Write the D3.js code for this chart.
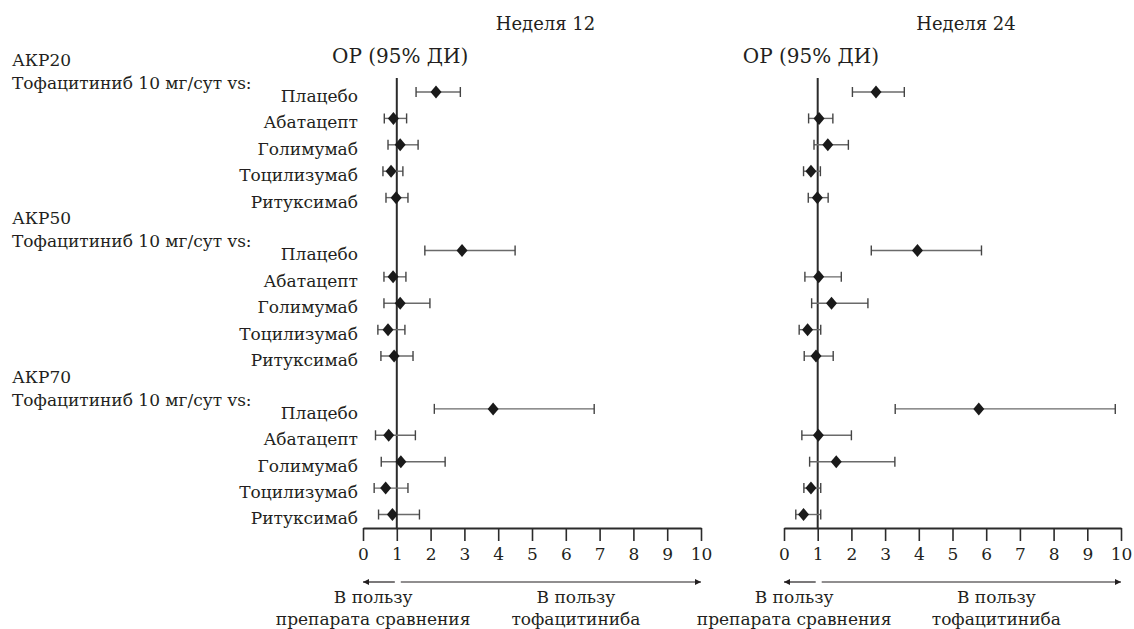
<!DOCTYPE html>
<html>
<head>
<meta charset="utf-8">
<script src="https://cdn.jsdelivr.net/npm/d3@7"></script>
<style>
  body { margin: 0; background: #fff; }
  svg text { fill: #231f20; }
</style>
</head>
<body>
<script>
// Данные
var groups = ["АКР20", "АКР50", "АКР70"];
var groupSub = "Тофацитиниб 10 мг/сут vs:";
var comparators = ["Плацебо", "Абатацепт", "Голимумаб", "Тоцилизумаб", "Ритуксимаб"];
var weeks = ["Неделя 12", "Неделя 24"];
var ticks = [0, 1, 2, 3, 4, 5, 6, 7, 8, 9, 10];

// Неделя 12: ОР, нижняя и верхняя граница ДИ (АКР20, АКР50, АКР70 подряд)
var w12est = [2.16, 0.90, 1.10, 0.83, 0.98,  2.93, 0.89, 1.10, 0.74, 0.92,  3.85, 0.76, 1.12, 0.67, 0.87];
var w12lo  = [1.57, 0.63, 0.74, 0.59, 0.68,  1.83, 0.62, 0.62, 0.44, 0.53,  2.11, 0.37, 0.54, 0.33, 0.46];
var w12hi  = [2.88, 1.29, 1.63, 1.18, 1.33,  4.50, 1.27, 1.98, 1.24, 1.48,  6.84, 1.55, 2.43, 1.33, 1.67];

// Неделя 24
var w24est = [2.73, 1.04, 1.30, 0.80, 0.99,  3.96, 1.03, 1.41, 0.70, 0.95,  5.78, 1.02, 1.55, 0.80, 0.58];
var w24lo  = [2.03, 0.73, 0.89, 0.58, 0.72,  2.59, 0.62, 0.82, 0.45, 0.60,  3.30, 0.53, 0.76, 0.59, 0.35];
var w24hi  = [3.57, 1.45, 1.91, 1.08, 1.31,  5.86, 1.70, 2.49, 1.09, 1.46,  9.83, 2.00, 3.29, 1.09, 1.09];

var favourLeft = ["В пользу", "препарата сравнения"];
var favourRight = ["В пользу", "тофацитиниба"];

var serif = "'DejaVu Serif', 'Liberation Serif', serif";
var width = 1134, height = 629;
var svg = d3.select("body").append("svg")
    .attr("width", width)
    .attr("height", height)
    .style("font-family", serif);

// строки: 5 на группу + пустая строка между группами
var rows = [];
groups.forEach(function(g, gi) {
  comparators.forEach(function(c, ci) {
    rows.push({group: gi, name: c, slot: gi * 6 + ci, i: gi * 5 + ci});
  });
});

var y = d3.scaleLinear().domain([0, 16]).range([92, 514.5]);
var axisY = 528;

var panels = [
  {title: weeks[0], x: d3.scaleLinear().domain([0, 10]).range([363, 701]), orX: 1.1, est: w12est, lo: w12lo, hi: w12hi},
  {title: weeks[1], x: d3.scaleLinear().domain([0, 10]).range([784, 1121]), orX: 0.8, est: w24est, lo: w24lo, hi: w24hi}
];

var defs = svg.append("defs");
defs.append("marker")
    .attr("id", "arr")
    .attr("viewBox", "0 0 10 10")
    .attr("refX", 10).attr("refY", 5)
    .attr("markerWidth", 10).attr("markerHeight", 6)
    .attr("markerUnits", "userSpaceOnUse")
    .attr("orient", "auto-start-reverse")
  .append("path")
    .attr("d", "M0,0L10,5L0,10Z")
    .attr("fill", "#231f20");

function addText(sel, size) {
  return sel.append("text")
      .style("font-family", serif)
      .style("font-size", size + "px");
}

// подписи групп и препаратов сравнения
groups.forEach(function(g, gi) {
  var y0 = y(gi * 6);
  addText(svg, 17)
      .attr("x", 12).attr("y", y0 - 32)
      .attr("dy", "0.35em")
      .text(g);
  addText(svg, 17)
      .attr("x", 12).attr("y", y0 - 9)
      .attr("dy", "0.35em")
      .text(groupSub);
});

rows.forEach(function(d) {
  addText(svg, 17)
      .attr("x", 358)
      .attr("y", y(d.slot) + 4)
      .attr("dy", "0.35em")
      .attr("text-anchor", "end")
      .text(d.name);
});

panels.forEach(function(p) {
  var x = p.x;
  var g = svg.append("g");

  // заголовки
  addText(g, 18)
      .attr("x", x(5.4)).attr("y", 30)
      .attr("text-anchor", "middle")
      .text(p.title);
  addText(g, 20)
      .attr("x", x(p.orX)).attr("y", 63)
      .attr("text-anchor", "middle")
      .text("ОР (95% ДИ)");

  // линия ОР = 1
  g.append("line")
      .attr("x1", x(1)).attr("x2", x(1))
      .attr("y1", 78).attr("y2", axisY)
      .attr("stroke", "#2b2b2b")
      .attr("stroke-width", 2);

  // ось
  var ax = g.append("g")
      .attr("transform", "translate(0," + axisY + ")")
      .call(d3.axisBottom(x).tickValues(ticks).tickSize(13).tickSizeOuter(0).tickPadding(7));
  ax.attr("font-family", serif).attr("font-size", 17);
  ax.select(".domain").attr("stroke", "#2b2b2b").attr("stroke-width", 2);
  ax.selectAll(".tick line").attr("stroke", "#2b2b2b").attr("stroke-width", 1.6);
  ax.selectAll(".tick text")
      .style("font-family", serif)
      .style("font-size", "17px")
      .attr("fill", "#231f20");

  // доверительные интервалы
  var ci = g.selectAll(".ci").data(rows).enter().append("g").attr("class", "ci");
  ci.append("line")
      .attr("x1", d => x(p.lo[d.i])).attr("x2", d => x(p.hi[d.i]))
      .attr("y1", d => y(d.slot)).attr("y2", d => y(d.slot))
      .attr("stroke", "#6a6a6a").attr("stroke-width", 1.4);
  ci.append("line")
      .attr("x1", d => x(p.lo[d.i])).attr("x2", d => x(p.lo[d.i]))
      .attr("y1", d => y(d.slot) - 5).attr("y2", d => y(d.slot) + 5)
      .attr("stroke", "#444").attr("stroke-width", 1.4);
  ci.append("line")
      .attr("x1", d => x(p.hi[d.i])).attr("x2", d => x(p.hi[d.i]))
      .attr("y1", d => y(d.slot) - 5).attr("y2", d => y(d.slot) + 5)
      .attr("stroke", "#444").attr("stroke-width", 1.4);
  ci.append("path")
      .attr("d", d => {
        var cx = x(p.est[d.i]), cy = y(d.slot);
        return "M" + cx + "," + (cy - 6.5) + "L" + (cx + 5.5) + "," + cy + "L" + cx + "," + (cy + 6.5) + "L" + (cx - 5.5) + "," + cy + "Z";
      })
      .attr("fill", "#1a1a1a");

  // стрелки направления эффекта
  var ay = 582;
  g.append("line")
      .attr("x1", x(1) - 2).attr("x2", x(0))
      .attr("y1", ay).attr("y2", ay)
      .attr("stroke", "#231f20").attr("stroke-width", 1.2)
      .attr("marker-end", "url(#arr)");
  g.append("line")
      .attr("x1", x(1) + 4).attr("x2", x(10))
      .attr("y1", ay).attr("y2", ay)
      .attr("stroke", "#231f20").attr("stroke-width", 1.2)
      .attr("marker-end", "url(#arr)");

  [[favourLeft, x(0.3)], [favourRight, x(6.3)]].forEach(function(f) {
    f[0].forEach(function(t, k) {
      addText(g, 17)
          .attr("x", f[1]).attr("y", 603 + k * 22)
          .attr("text-anchor", "middle")
          .text(t);
    });
  });
});
</script>
</body>
</html>
